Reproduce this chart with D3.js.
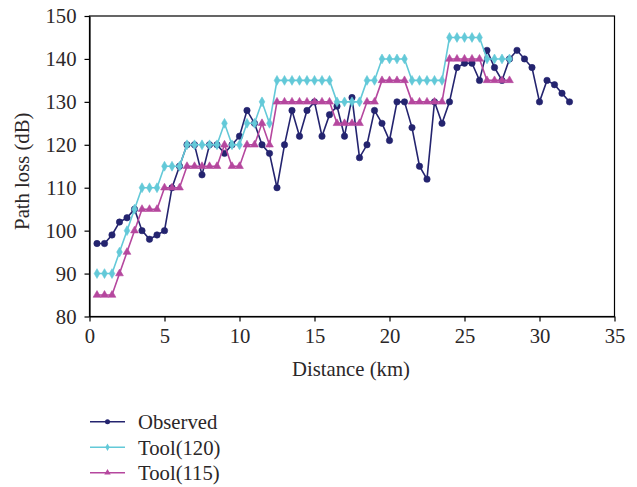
<!DOCTYPE html>
<html><head><meta charset="utf-8">
<script src="https://cdn.jsdelivr.net/npm/d3@7"></script>
<style>body{margin:0;background:#fff}svg{display:block}</style>
</head><body>
<svg id="c" width="637" height="487"></svg>
<script>
const distObs = [0.5,1,1.5,2,2.5,3,3.5,4,4.5,5,5.5,6,6.5,7,7.5,8,8.5,9,9.5,10,10.5,11,11.5,12,12.5,13,13.5,14,14.5,15,15.5,16,16.5,17,17.5,18,18.5,19,19.5,20,20.5,21,21.5,22,22.5,23,23.5,24,24.5,25,25.5,26,26.5,27,27.5,28,28.5,29,29.5,30,30.5,31,31.5,32];
const observed = [97,97,99,102,103,105,100,98,99,100,110,115,120,120,113,120,120,118,120,122,128,125,120,118,110,120,128,122,128,130,122,127,129,122,131,117,120,128,125,121,130,130,124,115,112,130,125,130,138,139,139,135,142,138,135,140,142,140,138,130,135,134,132,130];
const distTool = [0.5,1,1.5,2,2.5,3,3.5,4,4.5,5,5.5,6,6.5,7,7.5,8,8.5,9,9.5,10,10.5,11,11.5,12,12.5,13,13.5,14,14.5,15,15.5,16,16.5,17,17.5,18,18.5,19,19.5,20,20.5,21,21.5,22,22.5,23,23.5,24,24.5,25,25.5,26,26.5,27,27.5,28];
const tool120 = [90,90,90,95,100,105,110,110,110,115,115,115,120,120,120,120,120,125,120,120,125,125,130,125,135,135,135,135,135,135,135,135,130,130,130,130,135,135,140,140,140,140,135,135,135,135,135,145,145,145,145,145,140,140,140,140];
const tool115 = [85,85,85,90,95,100,105,105,105,110,110,110,115,115,115,115,115,120,115,115,120,120,125,120,130,130,130,130,130,130,130,130,125,125,125,125,130,130,135,135,135,135,130,130,130,130,130,140,140,140,140,140,135,135,135,135];
const xTicks = [0,5,10,15,20,25,30,35];
const yTicks = [80,90,100,110,120,130,140,150];
const seriesNames = ["Observed","Tool(120)","Tool(115)"];

const svg = d3.select("#c");
const L = 89.5, R = 614.5, T = 16, B = 316.5;
const x = d3.scaleLinear().domain([0,35]).range([L,R]);
const y = d3.scaleLinear().domain([80,150]).range([B,T]);
const font = "'Liberation Serif','Times New Roman',serif";
const txt = "#2b2728";
const fs = 20.7;

const series = [
  {name:seriesNames[0], xs:distObs, ys:observed, color:"#24246f", sym:d3.symbolCircle, size:32, lsize:20},
  {name:seriesNames[1], xs:distTool, ys:tool120, color:"#63c9d8", sym:d3.symbolDiamond, size:28, lsize:16},
  {name:seriesNames[2], xs:distTool, ys:tool115, color:"#b5479e", sym:d3.symbolTriangle, size:26, lsize:18}
];

// frame
svg.append("rect").attr("x",L).attr("y",T).attr("width",R-L).attr("height",B-T)
  .attr("fill","none").attr("stroke","#000").attr("stroke-width",1.2);

// axes
const xAxis = svg.append("g").attr("transform",`translate(0,${B})`)
  .call(d3.axisBottom(x).tickValues(xTicks).tickSize(5).tickSizeOuter(0));
const yAxis = svg.append("g").attr("transform",`translate(${L},0)`)
  .call(d3.axisLeft(y).tickValues(yTicks).tickSize(5).tickSizeOuter(0));
[xAxis,yAxis].forEach(a=>{
  a.select(".domain").attr("stroke","#000").attr("stroke-width",1.2);
  a.selectAll(".tick line").attr("stroke","#000").attr("stroke-width",1.2);
  a.selectAll(".tick text").attr("font-family",font).attr("font-size",fs).attr("fill",txt);
});
xAxis.selectAll(".tick text").attr("y",12).attr("dy","0.71em");
yAxis.selectAll(".tick text").attr("x",-13).attr("dy","0.33em");

svg.append("text").attr("x",(L+R)/2 - 1).attr("y",376).attr("text-anchor","middle")
  .attr("font-family",font).attr("font-size",fs).attr("fill",txt).text("Distance (km)");
svg.append("text").attr("transform",`translate(29,${(T+B)/2 + 5}) rotate(-90)`).attr("text-anchor","middle")
  .attr("font-family",font).attr("font-size",fs).attr("fill",txt).text("Path loss (dB)");

// series
series.forEach(s=>{
  const pts = s.xs.map((d,i)=>[d,s.ys[i]]);
  svg.append("path").datum(pts)
    .attr("d",d3.line().x(d=>x(d[0])).y(d=>y(d[1])))
    .attr("fill","none").attr("stroke",s.color).attr("stroke-width",1.6);
  svg.append("g").selectAll("path").data(pts).join("path")
    .attr("transform",d=>`translate(${x(d[0])},${y(d[1])})`)
    .attr("d",d3.symbol().type(s.sym).size(s.size))
    .attr("fill",s.color).attr("stroke",s.color).attr("stroke-width",0.6);
});

// legend
const legY = [421.7,447.3,472.7];
series.forEach((s,i)=>{
  const g = svg.append("g").attr("transform",`translate(0,${legY[i]})`);
  g.append("line").attr("x1",90).attr("x2",125).attr("y1",0).attr("y2",0)
    .attr("stroke",s.color).attr("stroke-width",1.6);
  g.append("path").attr("transform","translate(107.5,0)")
    .attr("d",d3.symbol().type(s.sym).size(s.lsize)).attr("fill",s.color);
  g.append("text").attr("x",138).attr("y",0).attr("dy","0.35em")
    .attr("font-family",font).attr("font-size",fs).attr("fill",txt).text(s.name);
});
</script>
</body></html>
